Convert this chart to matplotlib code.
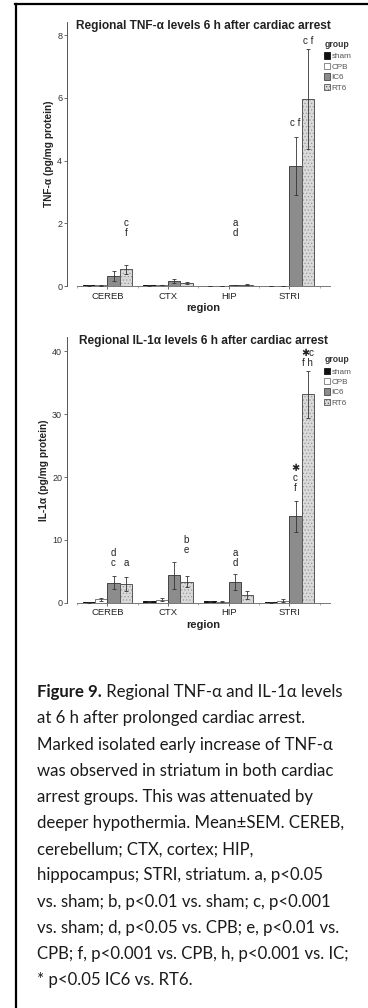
import numpy as np
import matplotlib
matplotlib.use('Agg')
import matplotlib.pyplot as plt
from matplotlib.patches import Patch
from matplotlib.lines import Line2D

# ---- data ----
regions = ['CEREB', 'CTX', 'HIP', 'STRI']
groups = ['sham', 'CPB', 'IC6', 'RT6']

tnf_mean = [[0.02, 0.02, 0.01, 0.01],    # sham
            [0.02, 0.03, 0.01, 0.01],    # CPB
            [0.32, 0.16, 0.03, 3.82],    # IC6
            [0.53, 0.10, 0.04, 5.97]]    # RT6
tnf_sem = [[0.005, 0.005, 0.005, 0.005],
           [0.005, 0.01, 0.005, 0.005],
           [0.15, 0.07, 0.01, 0.93],
           [0.15, 0.03, 0.01, 1.60]]

il1_mean = [[0.05, 0.20, 0.20, 0.05],
            [0.55, 0.45, 0.15, 0.35],
            [3.20, 4.35, 3.30, 13.75],
            [2.95, 3.35, 1.25, 33.20]]
il1_sem = [[0.02, 0.10, 0.15, 0.02],
           [0.25, 0.25, 0.10, 0.25],
           [1.07, 2.10, 1.25, 2.45],
           [1.15, 0.85, 0.65, 3.75]]

# significance letters: (region index, group index, text, y in data units)
tnf_notes = [(0, 3, 'c', 2.0), (0, 3, 'f', 1.69),
             (2, 2, 'a', 2.0), (2, 2, 'd', 1.69),
             (3, 2, 'c f', 5.19), (3, 3, 'c f', 7.8)]
il1_notes = [(0, 2, 'd', 7.9), (0, 2, 'c', 6.3), (0, 3, 'a', 6.3),
             (1, 3, 'b', 10.0), (1, 3, 'e', 8.4),
             (2, 2, 'a', 7.9), (2, 2, 'd', 6.3),
             (3, 2, '\u2731', 21.4), (3, 2, 'c', 19.8), (3, 2, 'f', 18.2),
             (3, 3, '\u2731c', 39.7), (3, 3, 'f h', 38.1)]

caption = ['at 6 h after prolonged cardiac arrest.',
           'Marked isolated early increase of TNF-\u03b1',
           'was observed in striatum in both cardiac',
           'arrest groups. This was attenuated by',
           'deeper hypothermia. Mean\u00b1SEM. CEREB,',
           'cerebellum; CTX, cortex; HIP,',
           'hippocampus; STRI, striatum. a, p<0.05',
           'vs. sham; b, p<0.01 vs. sham; c, p<0.001',
           'vs. sham; d, p<0.05 vs. CPB; e, p<0.01 vs.',
           'CPB; f, p<0.001 vs. CPB, h, p<0.001 vs. IC;',
           '* p<0.05 IC6 vs. RT6.']

W, H = 368, 1008
fill = ['#111111', '#ffffff', '#8c8c8c', '#dadada']
edge = ['#111111', '#777777', '#444444', '#555555']

plt.rcParams['font.family'] = ['Liberation Sans', 'DejaVu Sans']
plt.rcParams['hatch.linewidth'] = 0.5


def fx(x):
    return x / W


def fy(y):
    return 1 - y / H


def draw_panel(ax, means, sems, ymax, yticks, title, ylabel, notes):
    w = 0.204
    x = np.arange(len(regions))
    for i, g in enumerate(groups):
        pos = x + (i - 2) * w
        m = np.array(means[i])
        if g == 'RT6':
            ax.bar(pos, m, w, align='edge', color=fill[i], edgecolor='#9a9a9a',
                   linewidth=0, hatch='.....', zorder=2)
            ax.bar(pos, m, w, align='edge', fill=False, edgecolor=edge[i],
                   linewidth=0.7, zorder=2)
        else:
            ax.bar(pos, m, w, align='edge', color=fill[i], edgecolor=edge[i],
                   linewidth=0.7, zorder=2)
        ax.errorbar(pos + w / 2, m, yerr=sems[i], fmt='none', ecolor='#333333',
                    elinewidth=0.6, capsize=1.3, capthick=0.6, zorder=3)
    for r, gi, txt, yv in notes:
        ax.text(r + (gi - 1.5) * w, yv, txt, ha='center', va='center',
                fontsize=7, color='#222222')

    ax.set_xlim(-0.457, 3.67)
    ax.set_ylim(0, ymax)
    ax.set_xticks(x)
    ax.set_xticklabels(regions, fontsize=6.8, color='#222222')
    ax.set_xticks(np.arange(-0.5, 4, 1), minor=True)
    ax.set_yticks(yticks)
    ax.tick_params(axis='y', labelsize=6.5, length=2.5, width=0.6,
                   color='#555555', labelcolor='#333333', pad=1)
    ax.tick_params(axis='x', which='major', length=2.5, width=0.6,
                   color='#555555', pad=1.5)
    ax.tick_params(axis='x', which='minor', length=1.5, width=0.5,
                   color='#888888')
    for s in ['top', 'right']:
        ax.spines[s].set_visible(False)
    ax.spines['left'].set_position(('outward', 7.2))
    ax.spines['left'].set_color('#555555')
    ax.spines['bottom'].set_color('#777777')
    ax.spines['left'].set_linewidth(0.7)
    ax.spines['bottom'].set_linewidth(0.7)

    ax.set_xlabel('region', fontsize=8, fontweight='bold', color='#222222',
                  labelpad=2)
    ax.set_ylabel(ylabel, fontsize=7.3, fontweight='bold', color='#222222',
                  labelpad=2)
    ax.text(0.5, 0.985, title, transform=ax.transAxes, ha='center',
            va='center', fontsize=8.6, fontweight='bold', color='#222222')

    handles = [Patch(facecolor=fill[i], edgecolor=edge[i], linewidth=0.6,
                     hatch='.....' if groups[i] == 'RT6' else None)
               for i in range(len(groups))]
    leg = ax.legend(handles, groups, loc='upper left',
                    bbox_to_anchor=(0.976, 0.885), frameon=False,
                    fontsize=5.9, handlelength=0.8, handleheight=0.8,
                    handletextpad=0.1, labelspacing=0.3,
                    borderpad=0, borderaxespad=0)
    for t in leg.get_texts():
        t.set_color('#555555')
    ax.text(1.028, 0.915, 'group', transform=ax.transAxes, ha='center',
            va='center', fontsize=6.2, fontweight='bold', color='#333333')


fig = plt.figure(figsize=(W / 100, H / 100), dpi=100)

ax1 = fig.add_axes([fx(77), fy(286), (330 - 77) / W, (286 - 22) / H])
draw_panel(ax1, tnf_mean, tnf_sem, 8.42, [0, 2, 4, 6, 8],
           'Regional TNF-\u03b1 levels 6 h after cardiac arrest',
           'TNF-\u03b1 (pg/mg protein)', tnf_notes)

ax2 = fig.add_axes([fx(77), fy(602.7), (330 - 77) / W, (602.7 - 337) / H])
draw_panel(ax2, il1_mean, il1_sem, 42.3, [0, 10, 20, 30, 40],
           'Regional IL-1\u03b1 levels 6 h after cardiac arrest',
           'IL-1\u03b1 (pg/mg protein)', il1_notes)

# frame lines of the figure box
fig.add_artist(Line2D([fx(15), 1], [fy(3.5), fy(3.5)], color='black',
                      linewidth=1.6, transform=fig.transFigure))
fig.add_artist(Line2D([fx(15.5), fx(15.5)], [fy(3.5), 0], color='black',
                      linewidth=1.6, transform=fig.transFigure))

# caption
cap_font = ['Lato', 'DejaVu Sans']
cap_size = 12.1
t0 = fig.text(fx(37), fy(697.3), 'Figure 9.', fontsize=cap_size,
              fontweight='bold', family=cap_font, va='baseline',
              color='#1a1a1a')
fig.canvas.draw()
bb = t0.get_window_extent()
fig.text(bb.x1 / W, fy(697.3), ' Regional TNF-\u03b1 and IL-1\u03b1 levels',
         fontsize=cap_size, family=cap_font, va='baseline', color='#1a1a1a')
for k, line in enumerate(caption):
    fig.text(fx(37), fy(697.3 + 26.15 * (k + 1)), line, fontsize=cap_size,
             family=cap_font, va='baseline', color='#1a1a1a')

fig.savefig('out.png', dpi=100)
